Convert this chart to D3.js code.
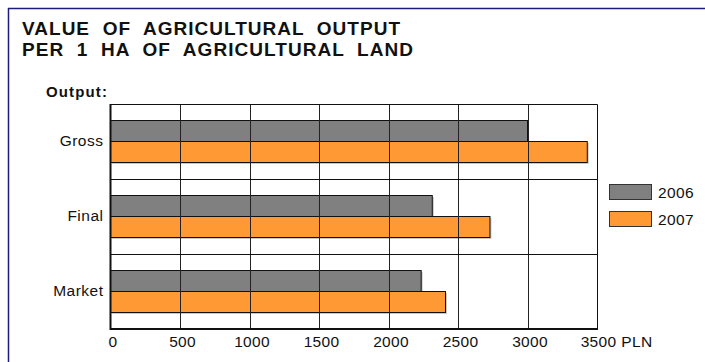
<!DOCTYPE html>
<html>
<head>
<meta charset="utf-8">
<script src="https://cdn.jsdelivr.net/npm/d3@7"></script>
<style>
  html, body { margin: 0; padding: 0; background: #fff; }
  svg { display: block; font-family: Arial, "Liberation Sans", sans-serif; }
</style>
</head>
<body>
<svg id="chart" width="705" height="362"></svg>
<script>
// Value of agricultural output per 1 ha of agricultural land (PLN)
const categories = ["Gross", "Final", "Market"];
const seriesNames = ["2006", "2007"];
const values2006 = [3000, 2315, 2235];
const values2007 = [3430, 2730, 2410];
const tickValues = [0, 500, 1000, 1500, 2000, 2500, 3000, 3500];
const titleLines = ["VALUE  OF  AGRICULTURAL  OUTPUT", "PER  1  HA  OF  AGRICULTURAL  LAND"];
const axisUnit = "PLN";
const colors = ["#808080", "#ff9933"];

const rows = categories.map((c, i) => ({ category: c, values: [values2006[i], values2007[i]] }));

const svg = d3.select("#chart");

// Frame lines along the top and left edge
svg.append("line").attr("x1", 8).attr("x2", 705).attr("y1", 8.5).attr("y2", 8.5)
  .attr("stroke", "#1c1c7a").attr("stroke-width", 1.5);
svg.append("line").attr("x1", 8.5).attr("x2", 8.5).attr("y1", 8).attr("y2", 362)
  .attr("stroke", "#1c1c7a").attr("stroke-width", 1.5);

// Title
const titleLengths = [378, 391];
titleLines.forEach((t, i) => {
  svg.append("text")
    .attr("x", 22).attr("y", 35 + i * 21)
    .attr("font-size", 19).attr("font-weight", "bold")
    .attr("textLength", titleLengths[i]).attr("lengthAdjust", "spacing")
    .attr("fill", "#111")
    .style("white-space", "pre")
    .text(t);
});

svg.append("text")
  .attr("x", 46).attr("y", 97)
  .attr("font-size", 15).attr("font-weight", "bold")
  .attr("textLength", 61).attr("lengthAdjust", "spacing")
  .attr("fill", "#111")
  .text("Output:");

const plot = { left: 110.5, right: 597, top: 104, bottom: 329 };

const x = d3.scaleLinear().domain([0, 3500]).range([plot.left, plot.right]);
const y = d3.scaleBand().domain(categories).range([plot.top, plot.bottom]).padding(0);
const ySub = d3.scaleBand().domain(seriesNames).range([16.5, y.bandwidth() - 16.5]).padding(0);

const g = svg.append("g");

// Plot background
g.append("rect")
  .attr("x", plot.left).attr("y", plot.top)
  .attr("width", plot.right - plot.left).attr("height", plot.bottom - plot.top)
  .attr("fill", "#fff");

// Bars with a soft drop shadow
const groups = g.selectAll("g.row").data(rows).join("g")
  .attr("class", "row")
  .attr("transform", d => `translate(0,${y(d.category)})`);

groups.selectAll("rect.shadow").data(d => d.values.map((v, i) => ({ v, s: seriesNames[i], i })))
  .join("rect").attr("class", "shadow")
  .attr("x", x(0) + 1.5)
  .attr("y", d => ySub(d.s) + 1.5)
  .attr("width", d => x(d.v) - x(0))
  .attr("height", ySub.bandwidth())
  .attr("fill", "#c8c8c8");

groups.selectAll("rect.bar").data(d => d.values.map((v, i) => ({ v, s: seriesNames[i], i })))
  .join("rect").attr("class", "bar")
  .attr("x", x(0))
  .attr("y", d => ySub(d.s))
  .attr("width", d => x(d.v) - x(0))
  .attr("height", ySub.bandwidth())
  .attr("fill", d => colors[d.i])
  .attr("stroke", "#111").attr("stroke-width", 1);

// Vertical grid lines drawn over the bars
g.selectAll("line.vgrid").data(tickValues.slice(1, -1)).join("line")
  .attr("class", "vgrid")
  .attr("x1", d => Math.round(x(d)) + 0.5).attr("x2", d => Math.round(x(d)) + 0.5)
  .attr("y1", plot.top).attr("y2", plot.bottom)
  .attr("stroke", "#222").attr("stroke-width", 1);

// Horizontal separators between categories
g.selectAll("line.hgrid").data(categories.slice(1)).join("line")
  .attr("class", "hgrid")
  .attr("x1", plot.left).attr("x2", plot.right)
  .attr("y1", d => Math.round(y(d)) + 0.5).attr("y2", d => Math.round(y(d)) + 0.5)
  .attr("stroke", "#111").attr("stroke-width", 1);

// Top and right border
g.append("path")
  .attr("d", `M${plot.left},${plot.top + 0.5}H${plot.right + 0.5}V${plot.bottom}`)
  .attr("fill", "none").attr("stroke", "#111").attr("stroke-width", 1);

// Left and bottom axis lines (heavier)
g.append("path")
  .attr("d", `M${plot.left},${plot.top}V${plot.bottom}H${plot.right + 1}`)
  .attr("fill", "none").attr("stroke", "#111").attr("stroke-width", 2);

// X axis labels
const xAxis = d3.axisBottom(x).tickValues(tickValues).tickSize(0).tickPadding(0)
  .tickFormat(d3.format("d"));
const xg = svg.append("g").attr("transform", `translate(0,${plot.bottom})`).call(xAxis);
xg.select(".domain").remove();
xg.selectAll("text")
  .attr("y", 17.5).attr("dy", 0)
  .attr("font-size", 15.5).attr("font-family", "Arial, 'Liberation Sans', sans-serif")
  .attr("letter-spacing", 0.3)
  .attr("fill", "#111")
  .attr("dominant-baseline", "auto");
xg.selectAll("text").attr("dx", 2);
// Unit after the last tick label
const lastTick = xg.selectAll(".tick").filter(d => d === 3500);
const lastText = lastTick.select("text");
const half = lastText.node().getComputedTextLength() / 2;
lastText.attr("text-anchor", "start").attr("dx", -half + 1).text(null)
  .call(t => {
    t.append("tspan").text("3500");
    t.append("tspan").attr("dx", 5).text(axisUnit);
  });

// Category labels
const yAxis = d3.axisLeft(y).tickSize(0).tickPadding(7);
const yg = svg.append("g").attr("transform", `translate(${plot.left},0)`).call(yAxis);
yg.select(".domain").remove();
yg.selectAll("text")
  .attr("font-size", 15.5).attr("font-family", "Arial, 'Liberation Sans', sans-serif")
  .attr("letter-spacing", 0.5)
  .attr("fill", "#111");

// Legend
const legend = svg.append("g").attr("transform", "translate(609,184)");
const li = legend.selectAll("g").data(seriesNames).join("g")
  .attr("transform", (d, i) => `translate(0,${i * 27})`);
li.append("rect").attr("x", 0.5).attr("y", 0.5).attr("width", 42).attr("height", 15)
  .attr("fill", (d, i) => colors[i]).attr("stroke", "#333").attr("stroke-width", 1);
li.append("text").attr("x", 49).attr("y", 13.5)
  .attr("font-size", 15.5).attr("letter-spacing", 0.4).attr("fill", "#111")
  .text(d => d);
</script>
</body>
</html>
